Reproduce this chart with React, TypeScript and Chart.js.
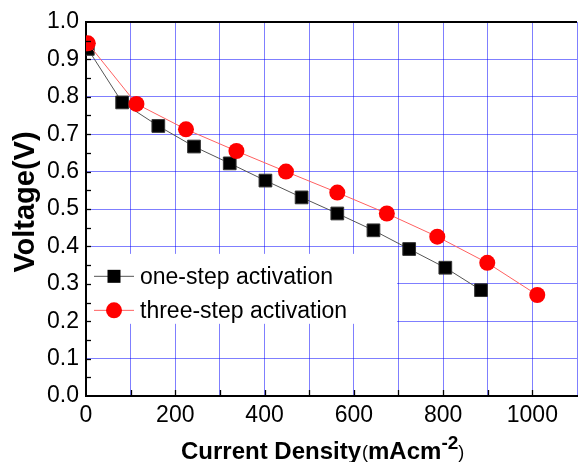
import React, { useEffect, useRef } from 'react';
import { Chart, registerables } from 'chart.js';

Chart.register(...registerables);

const oneStepX = [4, 81, 162, 242, 322, 402, 483, 563, 644, 724, 805, 885];
const oneStepV = [0.928, 0.785, 0.722, 0.667, 0.622, 0.576, 0.531, 0.488, 0.443, 0.393, 0.343, 0.283];
const threeStepX = [4, 113, 224, 337, 448, 563, 674, 787, 899, 1011];
const threeStepV = [0.943, 0.781, 0.713, 0.655, 0.6, 0.544, 0.488, 0.426, 0.356, 0.27];
const seriesNames = ['one-step activation', 'three-step activation'];
const xTickLabels = [0, 200, 400, 600, 800, 1000];
const yTickLabels = [0.0, 0.1, 0.2, 0.3, 0.4, 0.5, 0.6, 0.7, 0.8, 0.9, 1.0];
const xTitleParts = ['Current Density', '(', 'mAcm', '-2', ')'];
const yTitle = 'Voltage(V)';

const FONT = '"Liberation Sans", Arial, sans-serif';
const GRID = 'rgba(0, 0, 255, 0.5)';

const decorPlugin = {
  id: 'decor',
  beforeDatasetsDraw(chart: any) {
    const { ctx, chartArea, scales } = chart;
    const x = scales.x;
    const y = scales.y;
    ctx.save();
    const lx0 = chartArea.left + 1;
    const lx1 = x.getPixelForValue(697);
    const ly0 = y.getPixelForValue(0.38);
    const ly1 = y.getPixelForValue(0.193);
    ctx.fillStyle = '#ffffff';
    ctx.fillRect(lx0, ly0, lx1 - lx0, ly1 - ly0);
    const ds = chart.data.datasets;
    const rows = [y.getPixelForValue(0.32), y.getPixelForValue(0.229)];
    const order = [0, 1];
    ctx.font = `23px ${FONT}`;
    ctx.textBaseline = 'middle';
    ctx.textAlign = 'left';
    order.forEach((di, r) => {
      const d = ds[di];
      const yy = rows[r];
      const cx = chartArea.left + 28;
      ctx.strokeStyle = d.borderColor;
      ctx.lineWidth = 1;
      ctx.beginPath();
      ctx.moveTo(chartArea.left + 8, yy);
      ctx.lineTo(chartArea.left + 48, yy);
      ctx.stroke();
      ctx.fillStyle = d.pointBackgroundColor;
      if (d.pointStyle === 'rect') {
        ctx.fillRect(cx - 6.5, yy - 6.5, 13, 13);
      } else {
        ctx.beginPath();
        ctx.arc(cx, yy, 8, 0, Math.PI * 2);
        ctx.fill();
      }
      ctx.fillStyle = '#000';
      ctx.fillText(d.label, chartArea.left + 54, yy + 1);
    });
    ctx.restore();
  },
  afterDraw(chart: any) {
    const { ctx, chartArea, scales } = chart;
    const x = scales.x;
    const y = scales.y;
    ctx.save();
    ctx.strokeStyle = '#000';
    ctx.lineWidth = 2;
    ctx.beginPath();
    ctx.moveTo(chartArea.left, chartArea.top);
    ctx.lineTo(chartArea.right, chartArea.top);
    ctx.stroke();
    ctx.lineWidth = 1.3;
    for (let v = 0.05; v < 1.0; v += 0.05) {
      const py = Math.round(y.getPixelForValue(v)) + 0.5;
      ctx.beginPath();
      ctx.moveTo(chartArea.left, py);
      ctx.lineTo(chartArea.left + 5, py);
      ctx.stroke();
    }
    for (let v = 100; v <= 1000; v += 100) {
      const px = Math.round(x.getPixelForValue(v)) + 0.5;
      ctx.beginPath();
      ctx.moveTo(px, chartArea.bottom);
      ctx.lineTo(px, chartArea.bottom - 6);
      ctx.stroke();
    }
    ctx.fillStyle = '#000';
    ctx.save();
    ctx.translate(26, 202);
    ctx.rotate(-Math.PI / 2);
    ctx.font = `bold 29px ${FONT}`;
    ctx.textAlign = 'center';
    ctx.textBaseline = 'middle';
    ctx.fillText(yTitle, 0, 0);
    ctx.restore();
    const base = 459;
    let cx = 181;
    ctx.textAlign = 'left';
    ctx.textBaseline = 'alphabetic';
    const styles = [
      { f: `bold 24px ${FONT}`, dy: 0 },
      { f: `18px ${FONT}`, dy: -1 },
      { f: `bold 24px ${FONT}`, dy: 0 },
      { f: `bold 19px ${FONT}`, dy: -10 },
      { f: `18px ${FONT}`, dy: -1 },
    ];
    xTitleParts.forEach((t, i) => {
      ctx.font = styles[i].f;
      ctx.fillText(t, cx, base + styles[i].dy);
      cx += ctx.measureText(t).width + (i === 0 ? 1 : 0);
    });
    ctx.restore();
  },
};

export default function App() {
  const ref = useRef<HTMLCanvasElement>(null);
  useEffect(() => {
    if (!ref.current) return;
    const chart = new Chart(ref.current, {
      type: 'line',
      data: {
        datasets: [
          {
            label: seriesNames[0],
            data: oneStepX.map((x, i) => ({ x, y: oneStepV[i] })),
            borderColor: '#555555',
            borderWidth: 1,
            pointStyle: 'rect',
            pointRadius: 9,
            pointBackgroundColor: '#000000',
            pointBorderColor: '#333333',
            pointBorderWidth: 1,
            order: 1,
          } as any,
          {
            label: seriesNames[1],
            data: threeStepX.map((x, i) => ({ x, y: threeStepV[i] })),
            borderColor: '#ff6060',
            borderWidth: 1,
            pointStyle: 'circle',
            pointRadius: 8,
            pointBackgroundColor: '#ff0000',
            pointBorderColor: '#ff0000',
            pointBorderWidth: 0,
            order: 0,
          } as any,
        ],
      },
      options: {
        responsive: false,
        animation: false,
        layout: { padding: { top: 22, right: 0, left: 0, bottom: 0 } },
        plugins: { legend: { display: false }, tooltip: { enabled: false } },
        scales: {
          x: {
            type: 'linear',
            min: 0,
            max: 1100,
            grid: { color: GRID, lineWidth: 1, drawTicks: false },
            border: { display: true, color: '#000', width: 2 },
            ticks: {
              stepSize: 100,
              autoSkip: false,
              maxRotation: 0,
              padding: 6,
              color: '#000',
              font: { family: FONT, size: 23 },
              callback: (v: any) => (xTickLabels.includes(v) ? String(v) : ''),
            },
            afterFit: (s: any) => {
              s.height = 66;
            },
          },
          y: {
            type: 'linear',
            min: 0,
            max: 1,
            grid: { color: GRID, lineWidth: 1, drawTicks: false },
            border: { display: true, color: '#000', width: 2 },
            ticks: {
              stepSize: 0.1,
              padding: 7,
              color: '#000',
              font: { family: FONT, size: 23 },
              callback: (v: any) => {
                const m = yTickLabels.find((t) => Math.abs(t - v) < 1e-6);
                return m === undefined ? '' : m.toFixed(1);
              },
            },
            afterFit: (s: any) => {
              s.width = 86;
            },
          },
        },
      },
      plugins: [decorPlugin],
    });
    return () => chart.destroy();
  }, []);
  return (
    <canvas
      ref={ref}
      width={587}
      height={462}
      style={{ position: 'absolute', left: 0, top: 0, width: 587, height: 462 }}
    />
  );
}
